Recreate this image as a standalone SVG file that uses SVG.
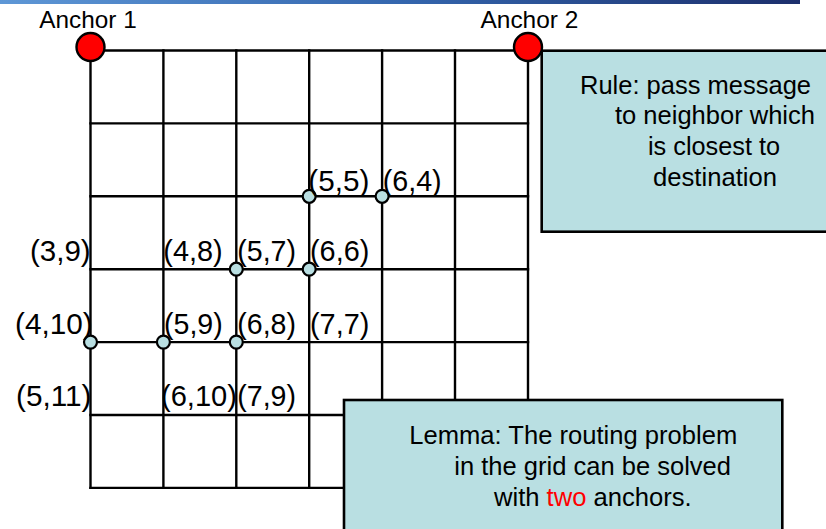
<svg xmlns="http://www.w3.org/2000/svg" width="826" height="529" viewBox="0 0 826 529">
<defs>
<linearGradient id="bar" x1="0" y1="0" x2="1" y2="0">
<stop offset="0" stop-color="#5E97D6"/>
<stop offset="0.5" stop-color="#3466AE"/>
<stop offset="1" stop-color="#1C2F6C"/>
</linearGradient>
</defs>
<style>
.grid{stroke:#000;stroke-width:2.4;fill:none;stroke-linecap:square}
.box{fill:#B9DFE2;stroke:#000;stroke-width:2.6}
.dot{fill:#B9DFE2;stroke:#000;stroke-width:2.2}
.anchor{fill:#FF0000;stroke:#000;stroke-width:2.4}
.lbl{font-family:"Liberation Sans",Arial,sans-serif;font-size:29.5px;fill:#000}
.atext{font-family:"Liberation Sans",Arial,sans-serif;font-size:24px;fill:#000}
.btext{font-family:"Liberation Sans",Arial,sans-serif;font-size:25.5px;fill:#000}
</style>
<rect x="0" y="0" width="800" height="4" fill="url(#bar)"/>
<g id="connectors" class="grid">
<line x1="90.5" y1="50.5" x2="528" y2="50.5"/>
<line x1="90.5" y1="123.4" x2="528" y2="123.4"/>
<line x1="90.5" y1="196.3" x2="528" y2="196.3"/>
<line x1="90.5" y1="269.2" x2="528" y2="269.2"/>
<line x1="90.5" y1="342.1" x2="528" y2="342.1"/>
<line x1="90.5" y1="415" x2="528" y2="415"/>
<line x1="90.5" y1="487.9" x2="528" y2="487.9"/>
<line x1="90.5" y1="50.5" x2="90.5" y2="487.9"/>
<line x1="163.4" y1="50.5" x2="163.4" y2="487.9"/>
<line x1="236.3" y1="50.5" x2="236.3" y2="487.9"/>
<line x1="309.2" y1="50.5" x2="309.2" y2="487.9"/>
<line x1="382.1" y1="50.5" x2="382.1" y2="487.9"/>
<line x1="455" y1="50.5" x2="455" y2="487.9"/>
<line x1="528" y1="50.5" x2="528" y2="487.9"/>
</g>
<g id="n55"><circle class="dot" cx="309.2" cy="196.3" r="6.5"/><text class="lbl" x="308.3" y="190.5" textLength="61" lengthAdjust="spacingAndGlyphs">(5,5)</text></g>
<g id="n64"><circle class="dot" cx="382.1" cy="196.3" r="6.5"/><text class="lbl" x="382.7" y="190.5" textLength="59" lengthAdjust="spacingAndGlyphs">(6,4)</text></g>
<g id="n39"><text class="lbl" x="30" y="260.5" textLength="60.7" lengthAdjust="spacingAndGlyphs">(3,9)</text></g>
<g id="n48"><text class="lbl" x="163.3" y="260.5" textLength="59.4" lengthAdjust="spacingAndGlyphs">(4,8)</text></g>
<g id="n57"><circle class="dot" cx="236.3" cy="269.2" r="6.5"/><text class="lbl" x="237.3" y="260.5" textLength="58.7" lengthAdjust="spacingAndGlyphs">(5,7)</text></g>
<g id="n66"><circle class="dot" cx="309.2" cy="269.2" r="6.5"/><text class="lbl" x="310" y="260.5" textLength="59.3" lengthAdjust="spacingAndGlyphs">(6,6)</text></g>
<g id="n410"><circle class="dot" cx="90.5" cy="342.1" r="6.5"/><text class="lbl" x="15" y="333.5" textLength="77.7" lengthAdjust="spacingAndGlyphs">(4,10)</text></g>
<g id="n59"><circle class="dot" cx="163.4" cy="342.1" r="6.5"/><text class="lbl" x="164" y="333.5" textLength="58.7" lengthAdjust="spacingAndGlyphs">(5,9)</text></g>
<g id="n68"><circle class="dot" cx="236.3" cy="342.1" r="6.5"/><text class="lbl" x="237.3" y="333.5" textLength="58.7" lengthAdjust="spacingAndGlyphs">(6,8)</text></g>
<g id="n77"><text class="lbl" x="310" y="333.5" textLength="59.3" lengthAdjust="spacingAndGlyphs">(7,7)</text></g>
<g id="n511"><text class="lbl" x="16" y="405.5" textLength="75.5" lengthAdjust="spacingAndGlyphs">(5,11)</text></g>
<g id="n610"><text class="lbl" x="161" y="405.5" textLength="76" lengthAdjust="spacingAndGlyphs">(6,10)</text></g>
<g id="n79"><text class="lbl" x="237.3" y="405.5" textLength="58.7" lengthAdjust="spacingAndGlyphs">(7,9)</text></g>
<g id="rule">
<rect class="box" x="541.7" y="50.7" width="300" height="181"/>
<text class="btext" x="580" y="93.5" textLength="231" lengthAdjust="spacingAndGlyphs">Rule: pass message</text>
<text class="btext" x="615" y="124.2" textLength="200" lengthAdjust="spacingAndGlyphs">to neighbor which</text>
<text class="btext" x="648" y="154.9" textLength="132" lengthAdjust="spacingAndGlyphs">is closest to</text>
<text class="btext" x="653" y="185.6" textLength="124" lengthAdjust="spacingAndGlyphs">destination</text>
</g>
<g id="lemma">
<rect class="box" x="344" y="400" width="438.3" height="150"/>
<text class="btext" x="409.3" y="444" textLength="328" lengthAdjust="spacingAndGlyphs">Lemma: The routing problem</text>
<text class="btext" x="454.3" y="475" textLength="276.7" lengthAdjust="spacingAndGlyphs">in the grid can be solved</text>
<text class="btext" x="494" y="506" textLength="197.7" lengthAdjust="spacingAndGlyphs">with <tspan fill="#FF0000">two</tspan> anchors.</text>
</g>
<g id="anchor1">
<circle class="anchor" cx="90.5" cy="47" r="14"/>
<text class="atext" x="39.3" y="28.3" textLength="97.4" lengthAdjust="spacingAndGlyphs">Anchor 1</text>
</g>
<g id="anchor2">
<circle class="anchor" cx="528" cy="47" r="14"/>
<text class="atext" x="480.5" y="28.3" textLength="97.8" lengthAdjust="spacingAndGlyphs">Anchor 2</text>
</g>
</svg>
